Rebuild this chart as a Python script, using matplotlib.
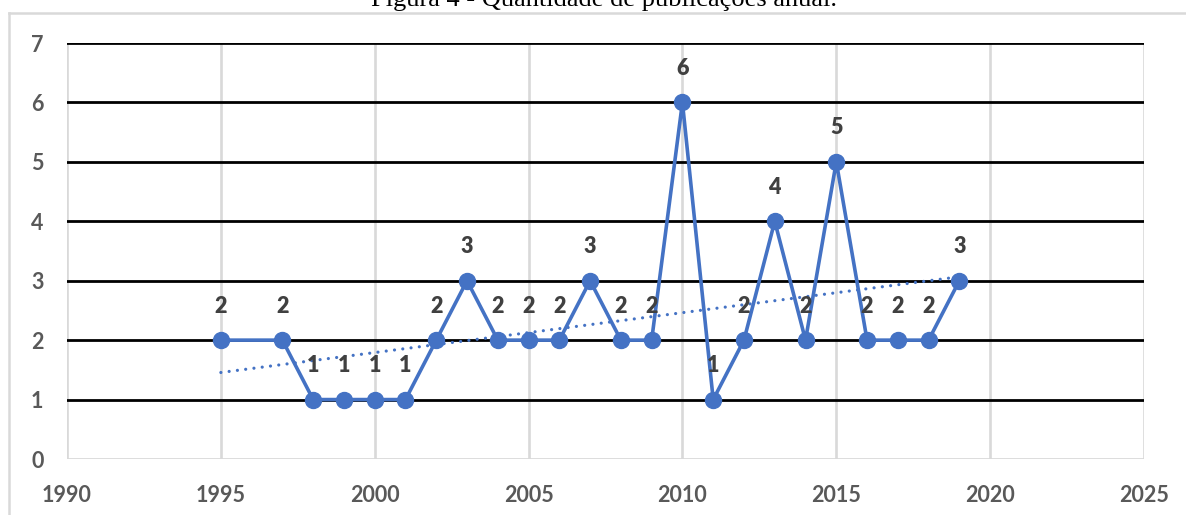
import numpy as np
import matplotlib
matplotlib.use("Agg")
import matplotlib.pyplot as plt
from matplotlib.lines import Line2D

# publications per year
anos = [1995, 1997, 1998, 1999, 2000, 2001, 2002, 2003, 2004, 2005, 2006, 2007,
        2008, 2009, 2010, 2011, 2012, 2013, 2014, 2015, 2016, 2017, 2018, 2019]
publicacoes = [2, 2, 1, 1, 1, 1, 2, 3, 2, 2, 2, 3,
               2, 2, 6, 1, 2, 4, 2, 5, 2, 2, 2, 3]

x_ticks = [1990, 1995, 2000, 2005, 2010, 2015, 2020, 2025]
y_ticks = [0, 1, 2, 3, 4, 5, 6, 7]

azul = '#4472C4'
cinza = '#D9D9D9'
tick_font = {'family': 'Lato', 'weight': 'bold', 'size': 15.5}

W, H = 1186, 515
fig = plt.figure(figsize=(W / 100, H / 100), dpi=100)
ax = fig.add_axes([67 / W, 1 - 459 / H, (1144 - 67) / W, (459 - 43) / H])

# grid: black horizontal, light gray vertical
for yv in y_ticks[1:]:
    ax.axhline(yv, color='black', lw=2.0, zorder=1)
for xv in x_ticks:
    ax.axvline(xv, color=cinza, lw=1.9, zorder=0.5)
ax.axhline(0, color=cinza, lw=2.0, zorder=1)

# linear trend over the data
coef = np.polyfit(anos, publicacoes, 1)
xt = np.array([anos[0], anos[-1]])
ax.plot(xt, np.polyval(coef, xt), color=azul, lw=2.3,
        linestyle=(0, (0.01, 2.6)), dash_capstyle='round', zorder=2)

ax.plot(anos, publicacoes, color=azul, lw=2.6, marker='o', ms=11.5,
        solid_capstyle='round', zorder=3)

for a, p in zip(anos, publicacoes):
    ax.annotate(str(p), (a, p), xytext=(0, 17), textcoords='offset points',
                ha='center', va='bottom', color='#404040',
                family='Lato', weight='heavy', fontsize=15.5, zorder=4)

ax.set_xlim(1990, 2025)
ax.set_ylim(0, 7)
ax.set_xticks(x_ticks)
ax.set_yticks(y_ticks)
ax.set_xticklabels([str(v) for v in x_ticks], fontdict=tick_font, color='#595959')
ax.set_yticklabels([str(v) for v in y_ticks], fontdict=tick_font, color='#595959')
ax.tick_params(length=0)
ax.tick_params(axis='x', pad=19)
ax.tick_params(axis='y', pad=17)
for s in ax.spines.values():
    s.set_visible(False)

# chart area border
fig.add_artist(Line2D([9 / W, 1.0], [1 - 13 / H, 1 - 13 / H],
                      transform=fig.transFigure, color=cinza, lw=1.8))
fig.add_artist(Line2D([9 / W, 9 / W], [0, 1 - 13 / H],
                      transform=fig.transFigure, color=cinza, lw=1.8))

fig.text(604 / W, 1 - 6 / H, 'Figura 4 - Quantidade de publicações anual.',
         ha='center', va='baseline', family='Liberation Serif', fontsize=19,
         color='black')

fig.savefig('out.png', dpi=100)
